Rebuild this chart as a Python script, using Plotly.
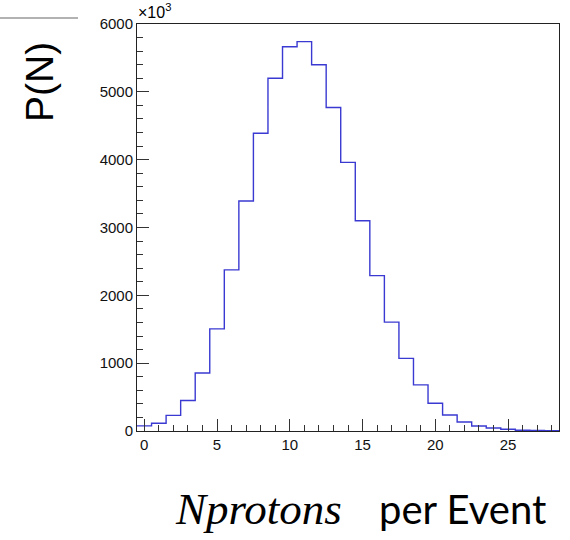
import plotly.graph_objects as go

# Data: proton multiplicity histogram (bin centres and counts)
bin_centers = list(range(0, 29))
counts = [75, 115, 230, 450, 855, 1505, 2375, 3390, 4390, 5200,
          5665, 5740, 5400, 4770, 3960, 3100, 2290, 1605, 1070, 680,
          410, 235, 133, 74, 44, 25, 12, 7, 4]
bin_width = 1.0
y_tick_vals = [0, 1000, 2000, 3000, 4000, 5000, 6000]
y_tick_text = ["0", "1000", "2000", "3000", "4000", "5000", "6000"]
x_tick_vals = [0, 5, 10, 15, 20, 25]
x_tick_text = ["0", "5", "10", "15", "20", "25"]

# histogram outline (step) built from bin edges
edges = [c - bin_width / 2 for c in bin_centers] + [bin_centers[-1] + bin_width / 2]
step_y = counts + [counts[-1]]

W, H = 570, 540
L, R, T, B = 137, 11, 24, 109

fig = go.Figure()
fig.add_trace(go.Scatter(
    x=edges, y=step_y, mode="lines", line_shape="hv",
    line=dict(color="#3a3ad2", width=1.4), hoverinfo="skip", showlegend=False))

fig.update_layout(
    width=W, height=H,
    margin=dict(l=L, r=R, t=T, b=B, pad=0),
    paper_bgcolor="white", plot_bgcolor="white",
    font=dict(family="Liberation Sans, Arial, sans-serif", size=15, color="black"),
    xaxis=dict(
        range=[-0.5, 28.5], showgrid=False, zeroline=False,
        showline=True, linecolor="#222", linewidth=1, mirror=True,
        ticks="inside", ticklen=12, tickcolor="#333", tickwidth=1,
        tickvals=x_tick_vals, ticktext=x_tick_text,
        minor=dict(dtick=1, ticks="inside", ticklen=6, tickcolor="#333", tickwidth=1, showgrid=False),
        tickfont=dict(size=15, color="#111"),
    ),
    yaxis=dict(
        range=[0, 6000], showgrid=False, zeroline=False,
        showline=True, linecolor="#222", linewidth=1, mirror=True,
        ticks="inside", ticklen=12, tickcolor="#333", tickwidth=1,
        tickvals=y_tick_vals, ticktext=y_tick_text,
        minor=dict(dtick=200, ticks="inside", ticklen=6, tickcolor="#333", tickwidth=1, showgrid=False),
        tickfont=dict(size=15, color="#111"),
    ),
)

pw = W - L - R
ph = H - T - B

def px(x):
    return (x - L) / pw

def py(y):
    return (H - B - y) / ph

# exponent label
fig.add_annotation(x=px(136), y=py(23), xref="paper", yref="paper",
                   xanchor="left", yanchor="bottom", showarrow=False,
                   text="×10<sup>3</sup>", font=dict(size=16, color="black"))

# y title
fig.add_annotation(x=px(40), y=py(82), xref="paper", yref="paper",
                   xanchor="center", yanchor="middle", showarrow=False,
                   textangle=-90, text="P(N)",
                   font=dict(family="Liberation Sans, Arial, sans-serif", size=39, color="black"))

# x title: math part and text part
fig.add_annotation(x=px(344), y=py(509), xref="paper", yref="paper",
                   xanchor="right", yanchor="middle", showarrow=False,
                   text="<i>N</i><i>protons</i>",
                   font=dict(family="Liberation Serif, serif", size=45, color="black"))
fig.add_annotation(x=px(377), y=py(509), xref="paper", yref="paper",
                   xanchor="left", yanchor="middle", showarrow=False,
                   text="per Event",
                   font=dict(family="Lato, sans-serif", size=40, color="black"))

# slide rule line at top-left
fig.add_shape(type="line", xref="paper", yref="paper",
              x0=px(0), x1=px(78), y0=py(18), y1=py(18),
              line=dict(color="#999999", width=1.5))

fig.write_html("out.html")
